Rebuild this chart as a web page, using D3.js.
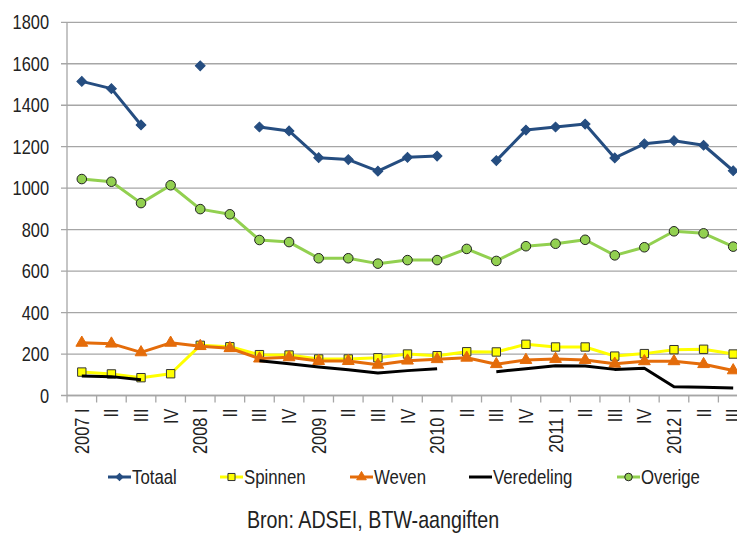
<!DOCTYPE html>
<html>
<head>
<meta charset="utf-8">
<script src="https://cdn.jsdelivr.net/npm/d3@7"></script>
<style>
body { margin: 0; background: #fff; }
svg { display: block; font-family: "Liberation Sans", Arial, sans-serif; }
</style>
</head>
<body>
<svg width="737" height="534"></svg>
<script>
// tick labels for each quarter
var quarters = ['2007 I', 'II', 'III', 'IV', '2008 I', 'II', 'III', 'IV',
	'2009 I', 'II', 'III', 'IV', '2010 I', 'II', 'III', 'IV',
	'2011 I', 'II', 'III', 'IV', '2012 I', 'II', 'III'];

var yTicks = [0, 200, 400, 600, 800, 1000, 1200, 1400, 1600, 1800];

// series values (null = missing)
var totaal = [1515, 1480, 1305, null, 1590, null, 1295, 1276, 1147, 1138, 1082, 1149,
	1155, null, 1133, 1280, 1295, 1309, 1146, 1214, 1229, 1207, 1084];
var spinnen = [113, 104, 86, 105, 242, 235, 197, 195, 176, 176, 182, 200,
	192, 211, 210, 247, 234, 234, 190, 202, 221, 223, 200];
var weven = [254, 250, 208, 254, 238, 228, 178, 184, 166, 166, 148, 168,
	175, 182, 151, 171, 176, 171, 153, 165, 165, 151, 121];
var veredeling = [94, 91, 76, null, null, null, 168, 153, 138, 124, 108, 120,
	129, null, 115, 129, 144, 142, 126, 131, 42, 40, 36];
var overige = [1044, 1031, 928, 1014, 899, 874, 750, 740, 662, 662, 636, 653,
	653, 707, 649, 720, 732, 751, 676, 715, 792, 782, 718];

var series = [
	{name: 'Totaal', values: totaal, color: '#254d80', marker: 'diamond', fill: '#254d80', stroke: '#254d80'},
	{name: 'Spinnen', values: spinnen, color: '#ffff00', marker: 'square', fill: '#ffff00', stroke: '#333'},
	{name: 'Weven', values: weven, color: '#e46c0a', marker: 'triangle', fill: '#e46c0a', stroke: '#e46c0a'},
	{name: 'Veredeling', values: veredeling, color: '#000000', marker: null},
	{name: 'Overige', values: overige, color: '#92d050', marker: 'circle', fill: '#92d050', stroke: '#222'}
];

var svg = d3.select('svg');
var plot = {l: 67, r: 748, t: 22.3, b: 395.5};
var narrow = 0.82;   // squeeze text to look like a narrow face
var grid = '#a6a6a6';

var xScale = d3.scaleBand()
	.domain(d3.range(quarters.length))
	.range([plot.l, plot.r]);
var yScale = d3.scaleLinear()
	.domain([0, 1800])
	.range([plot.b, plot.t]);

// gridlines
svg.append('g').selectAll('line')
	.data(yTicks)
	.enter().append('line')
	.attr('x1', plot.l - 6).attr('x2', plot.r)
	.attr('y1', function(d) { return yScale(d); })
	.attr('y2', function(d) { return yScale(d); })
	.attr('stroke', grid)
	.attr('stroke-width', 1.3);

// y axis
var yAx = svg.append('g');
yAx.append('line')
	.attr('x1', plot.l).attr('x2', plot.l)
	.attr('y1', plot.t).attr('y2', plot.b)
	.attr('stroke', grid).attr('stroke-width', 1.3);
yAx.selectAll('text')
	.data(yTicks)
	.enter().append('text')
	.attr('transform', function(d) {
		return 'translate(' + [49, yScale(d) + 7] + ') scale(' + narrow + ',1)';
	})
	.attr('text-anchor', 'end')
	.attr('font-size', 20)
	.attr('fill', '#222')
	.text(d3.format('d'));

// x axis: tick marks at category boundaries
var xAx = svg.append('g')
	.attr('transform', 'translate(' + [0, plot.b] + ')');
xAx.append('line')
	.attr('x1', plot.l).attr('x2', plot.r)
	.attr('stroke', grid).attr('stroke-width', 1.3);
xAx.selectAll('.tickmark')
	.data(d3.range(quarters.length + 1))
	.enter().append('line')
	.attr('class', 'tickmark')
	.attr('x1', function(i) { return plot.l + i * xScale.step(); })
	.attr('x2', function(i) { return plot.l + i * xScale.step(); })
	.attr('y1', 0).attr('y2', 7)
	.attr('stroke', grid).attr('stroke-width', 1.3);
xAx.selectAll('.lbl')
	.data(quarters)
	.enter().append('text')
	.attr('class', 'lbl')
	.attr('transform', function(d, i) {
		return 'translate(' + [xScale(i) + xScale.bandwidth() / 2 + 7, 13] + ') rotate(-90) scale(' + narrow + ',1)';
	})
	.attr('text-anchor', 'end')
	.attr('font-size', 20)
	.attr('fill', '#222')
	.text(function(d) { return d; });

function cx(d, i) { return xScale(i) + xScale.bandwidth() / 2; }

var symbols = {
	diamond: d3.symbol().type(d3.symbolSquare).size(48),
	square: d3.symbol().type(d3.symbolSquare).size(70),
	triangle: d3.symbol().type(d3.symbolTriangle).size(60),
	circle: d3.symbol().type(d3.symbolCircle).size(72)
};

var line = d3.line()
	.defined(function(d) { return d != null; })
	.x(cx)
	.y(function(d) { return yScale(d); });

series.forEach(function(s) {
	var g = svg.append('g');
	g.append('path')
		.datum(s.values)
		.attr('fill', 'none')
		.attr('stroke', s.color)
		.attr('stroke-width', 3)
		.attr('stroke-linejoin', 'round')
		.attr('d', line);
	if (s.marker) {
		g.selectAll('path.m')
			.data(s.values.map(function(v, i) { return {v: v, i: i}; })
				.filter(function(d) { return d.v != null; }))
			.enter().append('path')
			.attr('class', 'm')
			.attr('transform', function(d) {
				return 'translate(' + [cx(d.v, d.i), yScale(d.v)] + ')' +
					(s.marker == 'diamond' ? ' rotate(45)' : '');
			})
			.attr('d', symbols[s.marker])
			.attr('fill', s.fill)
			.attr('stroke', s.stroke)
			.attr('stroke-width', 1);
	}
});

// legend
var legendX = [108, 220, 350, 469, 617];
var legendG = svg.append('g').attr('transform', 'translate(0,477)');
var legSym = {
	diamond: d3.symbol().type(d3.symbolSquare).size(26),
	square: d3.symbol().type(d3.symbolSquare).size(50),
	triangle: d3.symbol().type(d3.symbolTriangle).size(40),
	circle: d3.symbol().type(d3.symbolCircle).size(45)
};
series.forEach(function(s, k) {
	var item = legendG.append('g').attr('transform', 'translate(' + [legendX[k], 0] + ')');
	item.append('line')
		.attr('x1', 0).attr('x2', 23)
		.attr('stroke', s.color).attr('stroke-width', 3);
	if (s.marker) {
		item.append('path')
			.attr('transform', 'translate(11.5,0)' + (s.marker == 'diamond' ? ' rotate(45)' : ''))
			.attr('d', legSym[s.marker])
			.attr('fill', s.fill)
			.attr('stroke', s.stroke)
			.attr('stroke-width', 1);
	}
	item.append('text')
		.attr('transform', 'translate(24,7) scale(' + narrow + ',1)')
		.attr('font-size', 20.5)
		.attr('fill', '#222')
		.text(s.name);
});

svg.append('text')
	.attr('transform', 'translate(373,528) scale(' + narrow + ',1)')
	.attr('text-anchor', 'middle')
	.attr('font-size', 24)
	.attr('fill', '#222')
	.text('Bron: ADSEI, BTW-aangiften');
</script>
</body>
</html>
